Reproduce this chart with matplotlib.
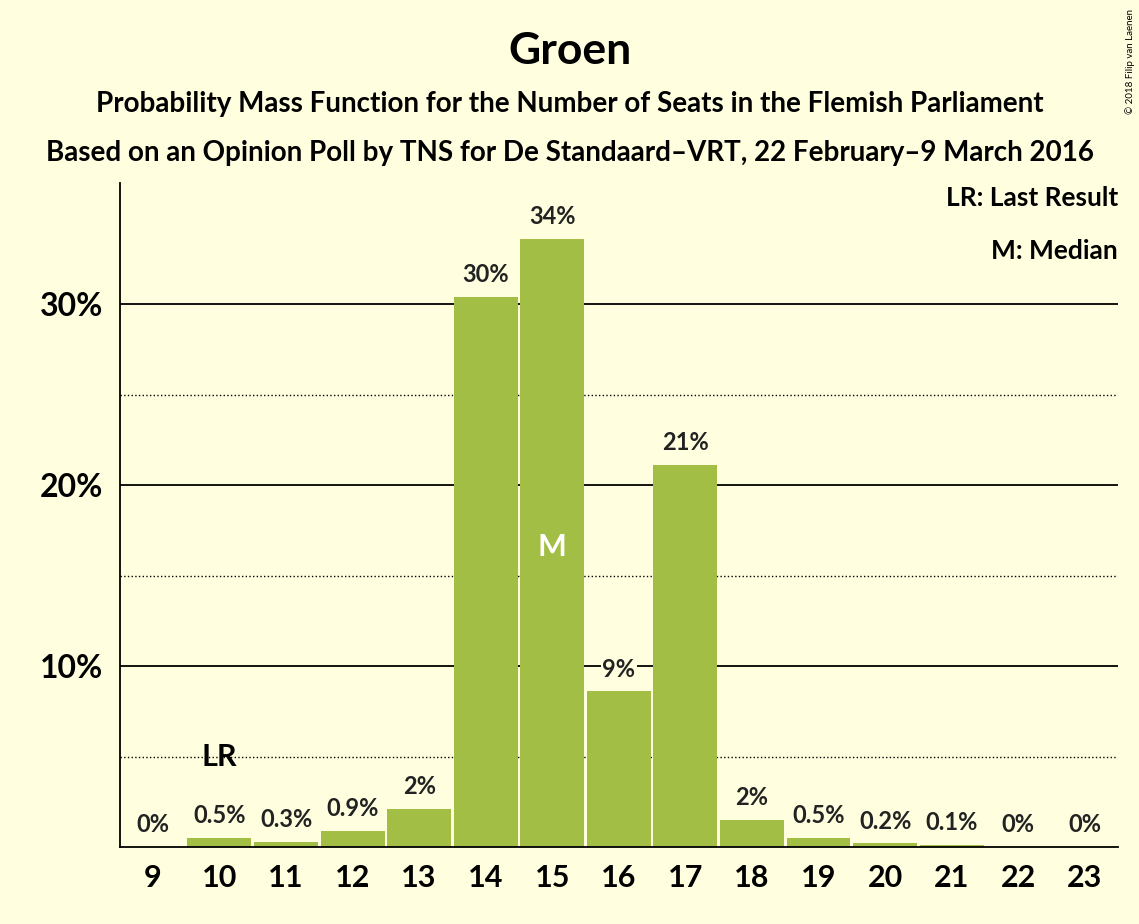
import matplotlib.pyplot as plt

seats = list(range(9, 24))
probs = [0, 0.5, 0.3, 0.9, 2.1, 30.4, 33.6, 8.6, 21.1, 1.5, 0.5, 0.2, 0.1, 0.02, 0]
labels = ['0%', '0.5%', '0.3%', '0.9%', '2%', '30%', '34%', '9%', '21%', '2%', '0.5%', '0.2%', '0.1%', '0%', '0%']
last_result = 10
median = 15

bg = '#FFFFE0'
green = '#A3BE44'
plt.rcParams['font.family'] = ['Lato', 'DejaVu Sans']

fig = plt.figure(figsize=(11.39, 9.24), dpi=100, facecolor=bg)
ax = fig.add_axes([0.105, 0.0833, 0.8766, 0.7187], facecolor=bg)

for y in [10, 20, 30]:
    ax.axhline(y, color='black', lw=1.3, zorder=0)
for y in [5, 15, 25]:
    ax.axhline(y, color='black', lw=1, ls=':', zorder=0)

ax.bar(seats, probs, width=0.96, color=green, zorder=2)
for s, p, l in zip(seats, probs, labels):
    ax.text(s, p + 0.6, l, ha='center', va='bottom', fontsize=17, fontweight='bold',
            color='#222222', zorder=3,
            bbox=dict(facecolor=bg, edgecolor='none', pad=1))
ax.text(last_result, 4.2, 'LR', ha='center', va='bottom', fontsize=22, fontweight='bold', zorder=3)
ax.text(median, 16.6, 'M', ha='center', va='center', fontsize=22, fontweight='bold', color='white', zorder=3)

ax.set_xlim(8.5, 23.5)
ax.set_ylim(0, 36.7)
ax.set_xticks(seats)
ax.set_xticklabels([str(s) for s in seats], fontsize=22, fontweight='bold')
ax.set_yticks([10, 20, 30])
ax.set_yticklabels(['10%', '20%', '30%'], fontsize=23, fontweight='bold')
ax.tick_params(length=0, pad=12)
for sp in ['top', 'right']:
    ax.spines[sp].set_visible(False)
ax.spines['left'].set_linewidth(1.3)
ax.spines['bottom'].set_linewidth(1.3)

ax.text(1.0, 0.995, 'LR: Last Result', transform=ax.transAxes, ha='right', va='top',
        fontsize=19, fontweight='bold', bbox=dict(facecolor=bg, edgecolor='none', pad=2))
ax.text(1.0, 0.915, 'M: Median', transform=ax.transAxes, ha='right', va='top',
        fontsize=19, fontweight='bold', bbox=dict(facecolor=bg, edgecolor='none', pad=2))

fig.text(0.5, 0.945, 'Groen', ha='center', va='center', fontsize=32, fontweight='bold')
fig.text(0.5, 0.887, 'Probability Mass Function for the Number of Seats in the Flemish Parliament',
         ha='center', va='center', fontsize=20, fontweight='bold')
fig.text(0.5, 0.834, 'Based on an Opinion Poll by TNS for De Standaard\u2013VRT, 22 February\u20139 March 2016',
         ha='center', va='center', fontsize=20, fontweight='bold')
fig.text(0.992, 0.99, '\u00a9 2018 Filip van Laenen', rotation=90, ha='center', va='top', fontsize=7)

fig.savefig('out.png', dpi=100, facecolor=bg)
